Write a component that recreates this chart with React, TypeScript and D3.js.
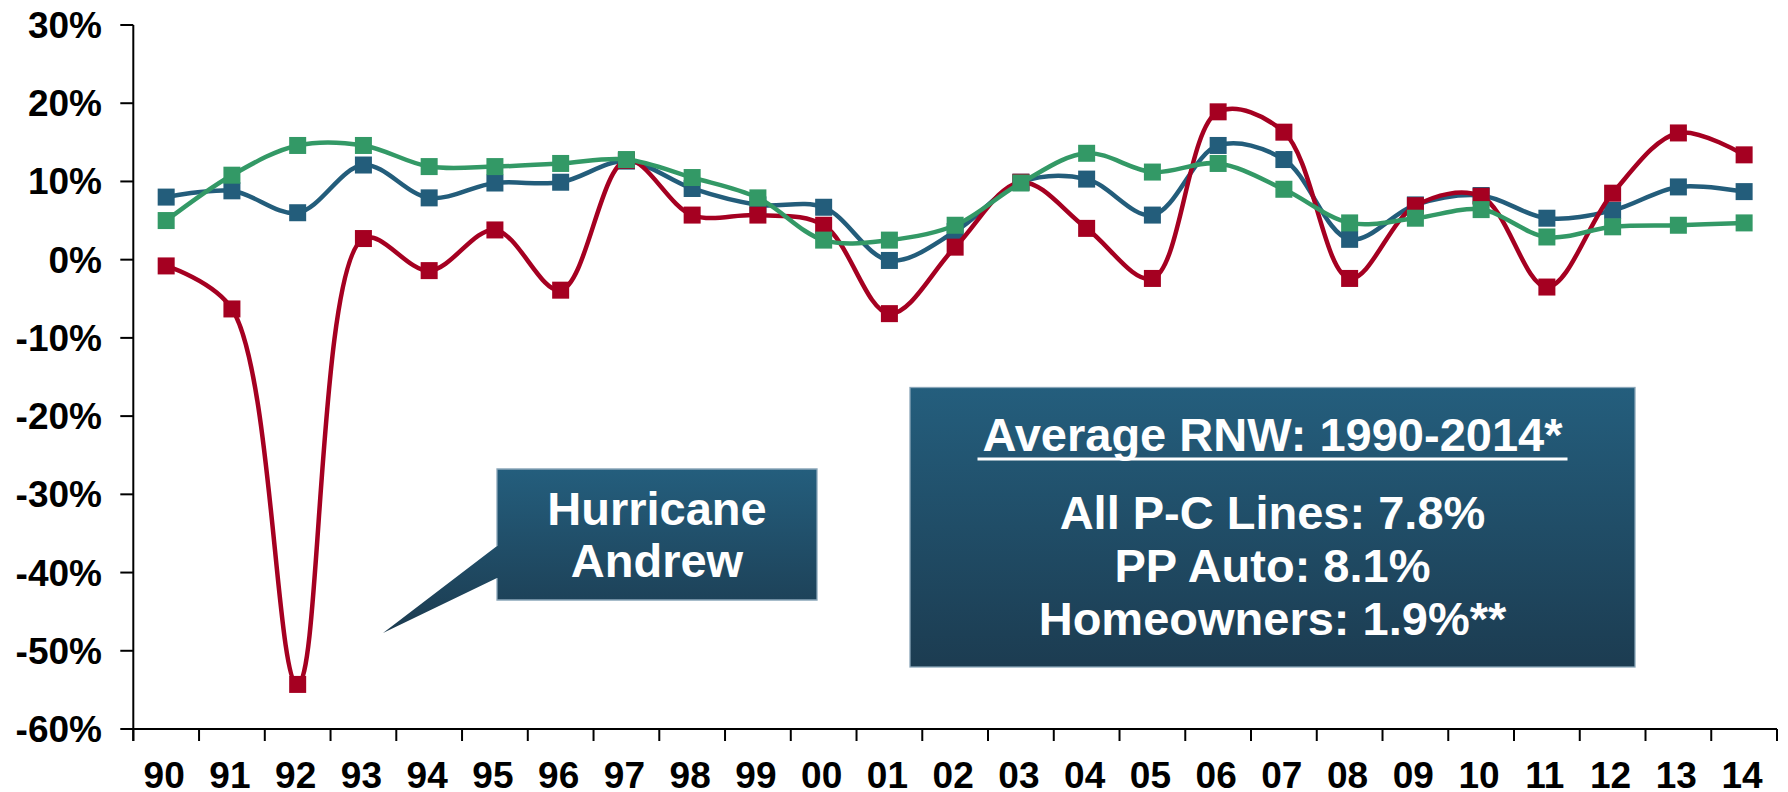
import React from "react";
import * as d3 from "d3";

const years = ["90","91","92","93","94","95","96","97","98","99","00","01","02","03","04","05","06","07","08","09","10","11","12","13","14"];
const allLines = [8.0, 8.8, 6.0, 12.1, 7.9, 9.8, 9.9, 12.6, 9.1, 7.0, 6.7, -0.1, 3.6, 9.9, 10.3, 5.7, 14.6, 12.8, 2.6, 7.0, 8.2, 5.3, 6.3, 9.3, 8.7];
const homeowners = [-0.8, -6.3, -54.3, 2.7, -1.4, 3.8, -3.9, 12.7, 5.7, 5.7, 4.4, -6.9, 1.6, 9.9, 4.0, -2.4, 18.9, 16.3, -2.4, 6.9, 8.1, -3.5, 8.5, 16.2, 13.4];
const ppAuto = [5.0, 10.8, 14.6, 14.6, 11.9, 11.9, 12.3, 12.8, 10.5, 7.9, 2.5, 2.5, 4.4, 9.8, 13.6, 11.2, 12.3, 9.0, 4.7, 5.3, 6.4, 2.9, 4.2, 4.4, 4.7];
const yTicks = [30, 20, 10, 0, -10, -20, -30, -40, -50, -60];
const calloutLines = ["Hurricane", "Andrew"];
const avgTitle = "Average RNW: 1990-2014*";
const avgLines = ["All P-C Lines: 7.8%", "PP Auto: 8.1%", "Homeowners: 1.9%**"];

const W = 1788, H = 792;
const left = 133.3, right = 1777, top = 25, bottom = 729;
const FONT = "'Liberation Sans', Arial, sans-serif";

const seriesList = [
  { name: "All P-C Lines", values: allLines, color: "#235D7B" },
  { name: "Homeowners", values: homeowners, color: "#A50021" },
  { name: "PP Auto", values: ppAuto, color: "#339966" },
];

export default function App() {
  const x = d3.scaleBand<string>().domain(years).range([left, right]).padding(0);
  const y = d3.scaleLinear().domain([-60, 30]).range([bottom, top]);
  const cx = (i: number) => (x(years[i]) as number) + x.bandwidth() / 2;
  const line = d3.line<number>().x((_, i) => cx(i)).y((v) => y(v)).curve(d3.curveCatmullRom.alpha(0.5));
  const ms = 17;
  const boundaries = years.map((yr) => x(yr) as number).concat([right]);

  // callout geometry
  const bx0 = 497, bx1 = 817, by0 = 469, by1 = 600;
  const tipX = 383, tipY = 633;
  const calloutPath = `M${bx0},${by0} H${bx1} V${by1} H${bx0} V578 L${tipX},${tipY} L${bx0},546 Z`;
  const borderPath = `M${bx0},546 V${by0} H${bx1} V${by1} H${bx0} V578`;

  const ax0 = 910, ax1 = 1635, ay0 = 387.5, ay1 = 667;
  const acx = (ax0 + ax1) / 2;

  return (
    <svg width={W} height={H} style={{ position: "absolute", left: 0, top: 0, background: "#fff" }}>
      <defs>
        <linearGradient id="gBox" x1="0" y1="0" x2="0" y2="1">
          <stop offset="0%" stopColor="#245E7D" />
          <stop offset="100%" stopColor="#1C3C51" />
        </linearGradient>
        <linearGradient id="gCall" gradientUnits="userSpaceOnUse" x1="0" y1={by0} x2="0" y2={by1 + 30}>
          <stop offset="0%" stopColor="#245E7D" />
          <stop offset="100%" stopColor="#1C3C51" />
        </linearGradient>
      </defs>

      {/* Y axis */}
      <line x1={left} x2={left} y1={top} y2={bottom + 12} stroke="#000" strokeWidth={2} />
      {yTicks.map((t) => (
        <g key={t}>
          <line x1={left - 13} x2={left} y1={y(t)} y2={y(t)} stroke="#000" strokeWidth={2} />
          <text x={102} y={y(t) + 13} textAnchor="end" fontFamily={FONT} fontWeight="bold" fontSize={37} fill="#000">
            {`${t}%`}
          </text>
        </g>
      ))}

      {/* X axis */}
      <line x1={left} x2={right} y1={bottom} y2={bottom} stroke="#000" strokeWidth={2} />
      {boundaries.map((b, i) => (
        <line key={i} x1={b} x2={b} y1={bottom} y2={bottom + 12} stroke="#000" strokeWidth={2} />
      ))}
      {years.map((yr, i) => (
        <text key={yr} x={cx(i) - 2} y={788} textAnchor="middle" fontFamily={FONT} fontWeight="bold" fontSize={37} fill="#000">
          {yr}
        </text>
      ))}

      {/* series */}
      {seriesList.map((s) => (
        <g key={s.name}>
          <path d={line(s.values) || ""} fill="none" stroke={s.color} strokeWidth={4.5} strokeLinejoin="round" />
          {s.values.map((v, i) => (
            <rect key={i} x={cx(i) - ms / 2} y={y(v) - ms / 2} width={ms} height={ms} fill={s.color} />
          ))}
        </g>
      ))}

      {/* Hurricane Andrew callout */}
      <path d={calloutPath} fill="url(#gCall)" />
      <path d={borderPath} fill="none" stroke="#8AA6B9" strokeWidth={1.3} />
      {calloutLines.map((t, i) => (
        <text key={t} x={(bx0 + bx1) / 2} y={525 + i * 52} textAnchor="middle" fontFamily={FONT} fontWeight="bold" fontSize={47} fill="#fff">
          {t}
        </text>
      ))}

      {/* Average box */}
      <rect x={ax0} y={ay0} width={ax1 - ax0} height={ay1 - ay0} fill="url(#gBox)" stroke="#8AA6B9" strokeWidth={1.3} />
      <text x={acx} y={450.5} textAnchor="middle" fontFamily={FONT} fontWeight="bold" fontSize={47} fill="#fff">
        {avgTitle}
      </text>
      <line x1={acx - 295} x2={acx + 295} y1={459} y2={459} stroke="#fff" strokeWidth={3.2} />
      {avgLines.map((t, i) => (
        <text key={t} x={acx} y={528.5 + i * 53} textAnchor="middle" fontFamily={FONT} fontWeight="bold" fontSize={47} fill="#fff">
          {t}
        </text>
      ))}
    </svg>
  );
}
